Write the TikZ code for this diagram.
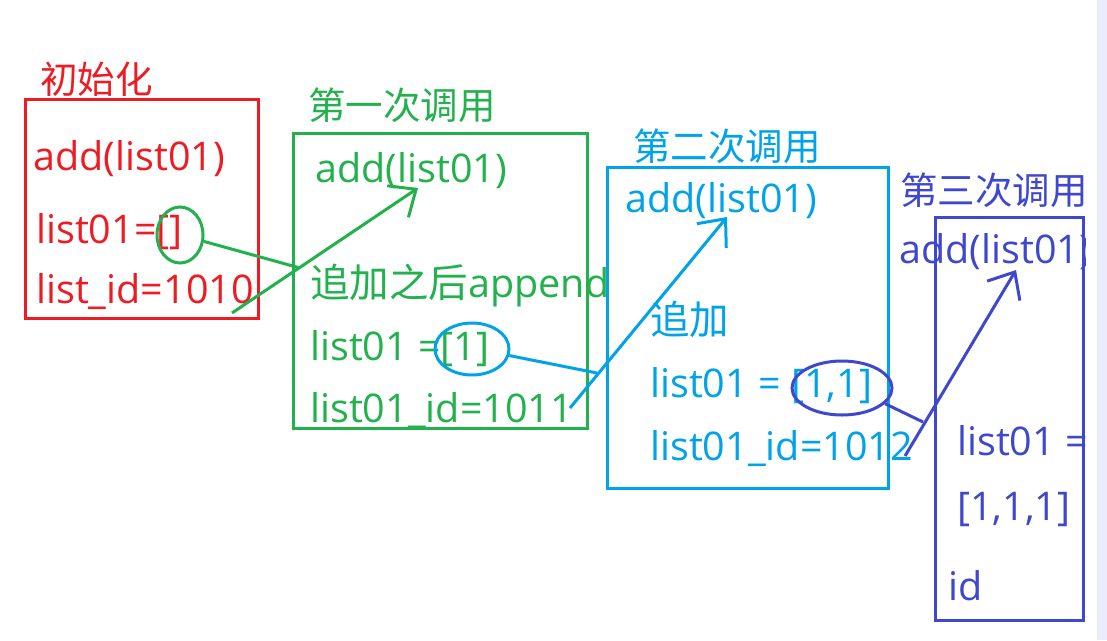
\documentclass[tikz,border=0pt]{standalone}
\usepackage{fontspec}
\setmainfont{Open Sans}
\newfontfamily\cjk{Noto Sans CJK SC}
\usepackage{tikz}
\usetikzlibrary{shapes.geometric, arrows.meta}
\definecolor{paintred}{RGB}{237, 28, 36}
\definecolor{paintgreen}{RGB}{34, 177, 76}
\definecolor{paintcyan}{RGB}{0, 162, 232}
\definecolor{paintindigo}{RGB}{63, 72, 204}

\begin{document}
\begin{tikzpicture}[
      x=1pt, y=-1pt,
      txt/.style={anchor=base west, inner sep=0pt,
                  font=\fontsize{39.5}{42}\selectfont},
      ttl/.style={anchor=base west, inner sep=0pt,
                  font=\cjk\fontsize{37.5}{40}\selectfont},
      frame/.style={draw, line width=3pt, inner sep=0pt},
      ring/.style={ellipse, draw, line width=3pt, inner sep=0pt},
      link/.style={line width=3pt},
      jump/.style={line width=3pt,
                   -{Straight Barb[length=22pt, width=38pt]}}
    ]
    \useasboundingbox (0,0) rectangle (1107,640);
    \fill[white] (0,0) rectangle (1107,640);
    \fill[black!10!blue!8!white] (1097,0) rectangle (1107,640);

    % initialisation
    \node[frame, paintred, minimum width=233pt, minimum height=219pt]
      (redbox) at (141.5,208.5) {};
    \node[ttl, paintred] (redttl) at (40,93) {初始化};
    \node[txt, paintred] (redadd) at (33,170) {add(list01)};
    \node[txt, paintred] (redlist) at (36,243) {list01=[]};
    \node[txt, paintred] (redid) at (36,303) {list\_id=1010};

    % first call
    \node[frame, paintgreen, minimum width=294pt, minimum height=295pt]
      (greenbox) at (440,280.5) {};
    \node[ttl, paintgreen] (greenttl) at (308,119) {第一次调用};
    \node[txt, paintgreen] (greenadd) at (315,182) {add(list01)};
    \node[txt, paintgreen] (greenapp) at (310,297) {{\cjk 追加之后}append};
    \node[txt, paintgreen] (greenlist) at (310,360) {list01 =[1]};
    \node[txt, paintgreen] (greenid) at (310,422) {list01\_id=1011};

    % second call
    \node[frame, paintcyan, minimum width=281pt, minimum height=321pt]
      (cyanbox) at (747.5,327.5) {};
    \node[ttl, paintcyan] (cyanttl) at (633,160) {第二次调用};
    \node[txt, paintcyan] (cyanadd) at (625,212) {add(list01)};
    \node[txt, paintcyan] (cyanapp) at (650,334) {\cjk 追加};
    \node[txt, paintcyan] (cyanlist) at (650,397) {list01 = [1,1]};
    \node[txt, paintcyan] (cyanid) at (650,460) {list01\_id=1012};

    % third call
    \node[frame, paintindigo, minimum width=148pt, minimum height=403pt]
      (indigobox) at (1009,418.5) {};
    \node[ttl, paintindigo] (indigottl) at (900,204) {第三次调用};
    \begin{scope}
      \clip (880,215) rectangle (1085,630);
      \node[txt, paintindigo] (indigoadd) at (899,263) {add(list01)};
      \node[txt, paintindigo] (indigolist) at (957,455) {list01 =};
    \end{scope}
    \node[txt, paintindigo] (indigoval) at (957,520) {[1,1,1]};
    \node[txt, paintindigo] (indigoid) at (948,600) {id};

    % rings and arrows
    \node[ring, paintgreen, minimum width=46pt, minimum height=56pt]
      (ring1) at (180,235) {};
    \node[ring, paintcyan, minimum width=74pt, minimum height=52pt]
      (ring2) at (472,349) {};
    \node[ring, paintindigo, minimum width=100pt, minimum height=54pt]
      (ring3) at (842,388) {};

    \coordinate (meet1) at (300,268);
    \coordinate (from1) at (232,313);
    \coordinate (tip1) at (418,188);
    \coordinate (meet2) at (597,373);
    \coordinate (from2) at (570,408);
    \coordinate (tip2) at (727,217);
    \coordinate (meet3) at (923,422);
    \coordinate (from3) at (905,456);
    \coordinate (tip3) at (1016,270);

    \draw[link, paintgreen] (ring1.-15) -- (meet1);
    \draw[jump, paintgreen] (from1) -- (tip1);
    \draw[link, paintcyan] (ring2.-10) -- (meet2);
    \draw[jump, paintcyan] (from2) -- (tip2);
    \draw[link, paintindigo] (ring3.-20) -- (meet3);
    \draw[jump, paintindigo] (from3) -- (tip3);
  \end{tikzpicture}
\end{document}
